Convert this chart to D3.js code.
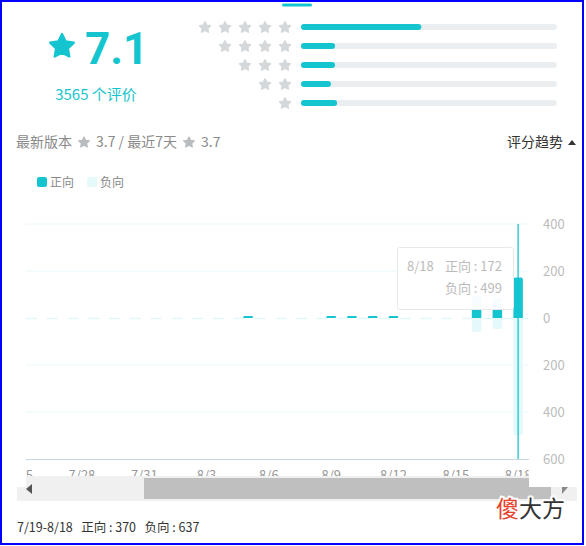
<!DOCTYPE html>
<html><head><meta charset="utf-8">
<script src="https://cdn.jsdelivr.net/npm/d3@7/dist/d3.min.js"></script>
<style>
html,body{margin:0;padding:0;background:#fff;}
svg{display:block;font-family:"Microsoft YaHei","Noto Sans CJK SC","Noto Sans",sans-serif;}
</style></head>
<body>
<svg id="c" width="586" height="546"></svg>
<script>
// ---------- data ----------
const score = "7.1";
const ratingCount = 3565;
const starLevels = [5, 4, 3, 2, 1];
const starShares = [47, 13.3, 13.3, 11.7, 14.1];   // percent of ratings
const latestVersion = "3.7";
const last7Days = "3.7";
const dates = ["7/19","7/20","7/21","7/22","7/23","7/24","7/25","7/26","7/27","7/28","7/29","7/30","7/31",
  "8/1","8/2","8/3","8/4","8/5","8/6","8/7","8/8","8/9","8/10","8/11","8/12","8/13","8/14","8/15","8/16","8/17","8/18"];
const positive = [0,0,0,0,0,0,0,0,0,0,0,0,0, 0,0,0,0,4,0,0,0,3,4,3,4,0,0,0,95,85,172];
const negative = [6,5,8,4,5,3,0,0,0,0,0,0,0, 0,0,0,0,0,0,0,0,0,0,0,0,0,0,0,60,47,499];
const yTicks = [400, 200, 0, -200, -400, -600];
const xTickDates = dates.filter((d, i) => i % 3 === 0);
const legendNames = ["正向", "负向"];

// ---------- styles ----------
const TEAL = "#14c5d0", LIGHT = "#e5f8fa", GRID = "#e9f8fa", STARGRAY = "#d4d8db";
const svg = d3.select("#c");

// rounded-ish star path
function starPath(R) {
  const pts = d3.range(10).map(i => [i * Math.PI / 5, i % 2 ? R * 0.5 : R]);
  return d3.lineRadial().curve(d3.curveLinearClosed)(pts);
}
function drawStar(cx, cy, R, col, sw) {
  svg.append("path").attr("d", starPath(R)).attr("transform", `translate(${cx},${cy})`)
    .attr("fill", col).attr("stroke", col).attr("stroke-width", sw).attr("stroke-linejoin", "round");
}

// border
svg.append("rect").attr("x",1).attr("y",1).attr("width",582).attr("height",543)
  .attr("fill","none").attr("stroke","#0000ff").attr("stroke-width",2);

// top tab indicator
svg.append("rect").attr("x",282).attr("y",3.5).attr("width",30).attr("height",3).attr("rx",1.5).attr("fill",TEAL);

// big star + score
drawStar(62, 46.5, 12.5, TEAL, 2.2);
svg.append("text").attr("x",85).attr("y",64).attr("fill",TEAL)
  .style("font-family","Roboto,sans-serif").style("font-weight",700).style("font-size","44px").text(score);
svg.append("text").attr("x",96).attr("y",100).attr("text-anchor","middle").attr("fill",TEAL)
  .style("font-size","15px").text(ratingCount + " 个评价");

// star distribution
const rowY = d3.scalePoint().domain(starLevels).range([27, 103]);
const colX = d3.scalePoint().domain([5,4,3,2,1]).range([205, 285]);
starLevels.forEach(lv => {
  for (let k = 1; k <= lv; k++) drawStar(colX(k), rowY(lv) + 0.5, 5.8, STARGRAY, 1.4);
});
const shareX = d3.scaleLinear().domain([0,100]).range([301, 557]);
svg.selectAll(".trk").data(starLevels).join("rect")
  .attr("x",shareX(0)).attr("y",d=>rowY(d)-3).attr("width",shareX(100)-shareX(0)).attr("height",6)
  .attr("rx",3).attr("fill","#ebeef0");
svg.selectAll(".fil").data(starShares).join("rect")
  .attr("x",shareX(0)).attr("y",(d,i)=>rowY(starLevels[i])-3).attr("width",d=>shareX(d)-shareX(0)).attr("height",6)
  .attr("rx",3).attr("fill",TEAL);

// header line
const hdr = svg.append("g").style("font-size","14px").attr("fill","#8a8a8a");
hdr.append("text").attr("x",16).attr("y",147).text("最新版本");
drawStar(84, 142.5, 5.6, "#b8bcbf", 1.2);
hdr.append("text").attr("x",96).attr("y",147).attr("xml:space","preserve").text(latestVersion + " / 最近7天");
drawStar(189, 142.5, 5.6, "#b8bcbf", 1.2);
hdr.append("text").attr("x",201).attr("y",147).text(last7Days);
svg.append("text").attr("x",563).attr("y",147).attr("text-anchor","end").attr("fill","#333")
  .style("font-size","14px").text("评分趋势");
svg.append("path").attr("d","M568,145 L576,145 L572,140 Z").attr("fill","#333");

// legend
[[37,TEAL,legendNames[0]],[87,LIGHT,legendNames[1]]].forEach(([lx,col,nm])=>{
  svg.append("rect").attr("x",lx).attr("y",177).attr("width",10).attr("height",10).attr("rx",2).attr("fill",col);
  svg.append("text").attr("x",lx+13).attr("y",187).attr("fill","#888").style("font-size","12px").text(nm);
});

// ---------- chart ----------
const plotL = 26, plotR = 528.5;
const step = 20.77;
const x = d3.scaleBand().domain(dates).range([plotR - dates.length*step, plotR]).padding(0);
const y = d3.scaleLinear().domain([-600, 400]).range([459, 224]);
const barW = 9.5;

svg.append("defs").append("clipPath").attr("id","plotclip")
  .append("rect").attr("x",plotL).attr("y",0).attr("width",plotR-plotL).attr("height",546);

const plot = svg.append("g").attr("clip-path","url(#plotclip)");
// grid lines
plot.selectAll(".grid").data(yTicks.filter(t => t !== 0 && t !== -600)).join("line")
  .attr("x1",plotL).attr("x2",plotR).attr("y1",d=>y(d)).attr("y2",d=>y(d))
  .attr("stroke",GRID).attr("stroke-width",1);
plot.append("line").attr("x1",plotL).attr("x2",plotR).attr("y1",y(0)+0.5).attr("y2",y(0)+0.5)
  .attr("stroke","#e3f6f8").attr("stroke-width",1.5).attr("stroke-dasharray","11 9.77");

const cxOf = d => x(d) + x.bandwidth()/2;
function barPath(xc, v, up) {
  const x0 = xc - barW/2, y0 = y(0);
  let y1 = y(up ? v : -v);
  if (Math.abs(y1 - y0) < 2) y1 = y0 + (up ? -2 : 2);
  const h = Math.abs(y1 - y0), r = Math.min(2, h/2), s = up ? 1 : -1;
  return `M${x0},${y0} L${x0+barW},${y0} L${x0+barW},${y1+s*r} Q${x0+barW},${y1} ${x0+barW-r},${y1} L${x0+r},${y1} Q${x0},${y1} ${x0},${y1+s*r} Z`;
}
// negative bars
plot.selectAll(".neg").data(dates.map((d,i)=>({d, v:negative[i]})).filter(o=>o.v>0)).join("path")
  .attr("d", o => barPath(cxOf(o.d), o.v, false)).attr("fill",LIGHT);
// positive bars
plot.selectAll(".pos").data(dates.map((d,i)=>({d, v:positive[i]})).filter(o=>o.v>0)).join("path")
  .attr("d", o => barPath(cxOf(o.d), o.v, true)).attr("fill",TEAL);

// axis pointer at last day
const last = dates.length - 1;
plot.append("line").attr("x1",cxOf(dates[last])).attr("x2",cxOf(dates[last])).attr("y1",y(400)).attr("y2",y(-600))
  .attr("stroke",TEAL).attr("stroke-width",1.3);

// x axis line
svg.append("line").attr("x1",plotL).attr("x2",plotR+0.5).attr("y1",y(-600)+0.5).attr("y2",y(-600)+0.5)
  .attr("stroke","#c9d4e2").attr("stroke-width",1);

// y axis labels
const yAxis = svg.append("g").attr("transform",`translate(538,0)`)
  .call(d3.axisRight(y).tickValues(yTicks).tickSize(0).tickFormat(d => Math.abs(d)));
yAxis.select(".domain").remove();
yAxis.selectAll("text").attr("fill","#bcbcbc").attr("x",5).style("font-size","13px")
  .style("font-family","\"Microsoft YaHei\",\"Noto Sans CJK SC\",sans-serif");

// x axis labels (only those reaching into the visible window)
const visibleTicks = xTickDates.filter(d => cxOf(d) > plotL - 10);
const xAxis = svg.append("g").attr("clip-path","url(#plotclip)").attr("transform",`translate(0,${y(-600)})`)
  .call(d3.axisBottom(x).tickValues(visibleTicks).tickSize(0));
xAxis.select(".domain").remove();
xAxis.selectAll("text").attr("fill","#999").attr("y",11.5).style("font-size","13px")
  .style("font-family","\"Microsoft YaHei\",\"Noto Sans CJK SC\",sans-serif");

// tooltip
const tip = svg.append("g");
tip.append("rect").attr("x",397.5).attr("y",247.5).attr("width",116).attr("height",62)
  .attr("fill","#fff").attr("fill-opacity",0.97).attr("stroke","#e8e8e8").attr("rx",2);
tip.append("text").attr("x",407).attr("y",271).attr("fill","#bbb").style("font-size","13px").text(dates[last]);
tip.append("text").attr("x",502).attr("y",271).attr("text-anchor","end").attr("fill","#bbb").style("font-size","13px")
  .text(legendNames[0] + " : " + positive[last]);
tip.append("text").attr("x",502).attr("y",293).attr("text-anchor","end").attr("fill","#bbb").style("font-size","13px")
  .text(legendNames[1] + " : " + negative[last]);

// scrollbar (data zoom)
svg.append("rect").attr("x",plotL).attr("y",476).attr("width",plotR-plotL+0.5).attr("height",12).attr("fill","#f0f0f0");
svg.append("rect").attr("x",17).attr("y",487).attr("width",560).attr("height",14).attr("fill","#f0f0f0");
svg.append("rect").attr("x",144).attr("y",478).attr("width",plotR+0.5-144).attr("height",21).attr("fill","#bfbfbf");
svg.append("rect").attr("x",plotR+0.5).attr("y",487).attr("width",551-plotR-0.5).attr("height",12).attr("fill","#bfbfbf");
svg.append("path").attr("d","M26,489 L32,484 L32,494 Z").attr("fill","#555");
svg.append("path").attr("d","M562,487 L568,487 L562,494 Z").attr("fill","#888");

// watermark
const wm = svg.append("text").attr("x",496).attr("y",517).style("font-size","23px")
  .attr("stroke","#fff").attr("stroke-width",4).attr("paint-order","stroke").attr("stroke-linejoin","round");
wm.append("tspan").attr("fill","#e8412c").text("傻");
wm.append("tspan").attr("fill","#333").text("大方");

// footer
const totalPos = d3.sum(positive), totalNeg = d3.sum(negative);
svg.append("text").attr("x",17).attr("y",532).attr("fill","#333").style("font-size","12.5px")
  .attr("xml:space","preserve")
  .text(`${dates[0]}-${dates[last]}   ${legendNames[0]} : ${totalPos}   ${legendNames[1]} : ${totalNeg}`);
</script>
</body></html>
